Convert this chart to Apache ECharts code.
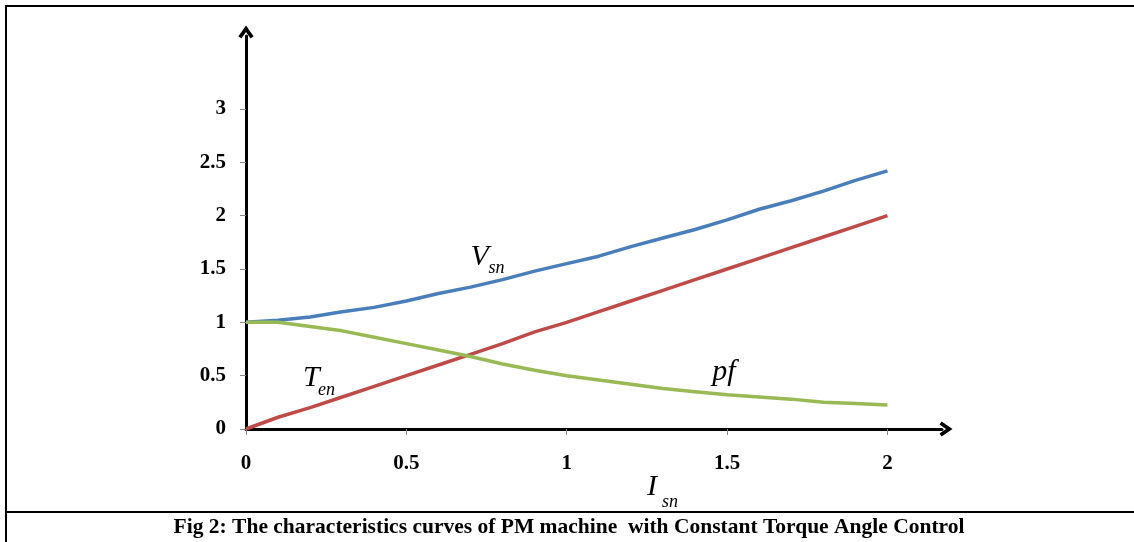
<!DOCTYPE html>
<html>
<head>
<meta charset="utf-8">
<script src="https://cdn.jsdelivr.net/npm/echarts@6/dist/echarts.min.js"></script>
<style>
html,body{margin:0;padding:0;background:#fff;}
#c{width:1134px;height:542px;}
</style>
</head>
<body>
<div id="c"></div>
<script>
// ---- data ----
const xValues = [0,0.1,0.2,0.3,0.4,0.5,0.6,0.7,0.8,0.9,1.0,1.1,1.2,1.3,1.4,1.5,1.6,1.7,1.8,1.9,2.0];
const vsn = [1.00,1.02,1.05,1.10,1.14,1.20,1.27,1.33,1.40,1.48,1.55,1.62,1.71,1.79,1.87,1.96,2.06,2.14,2.23,2.33,2.42];
const ten = [0.00,0.11,0.20,0.30,0.40,0.50,0.60,0.70,0.80,0.91,1.00,1.10,1.20,1.30,1.40,1.50,1.60,1.70,1.80,1.90,2.00];
const pf  = [1.00,1.00,0.96,0.92,0.86,0.80,0.74,0.68,0.61,0.55,0.50,0.46,0.42,0.38,0.35,0.32,0.30,0.28,0.25,0.24,0.225];
const xTicks = [0,0.5,1,1.5,2];
const yTicks = [0,0.5,1,1.5,2,2.5,3];
const caption = 'Fig 2: The characteristics curves of PM machine  with Constant Torque Angle Control';
// annotations: [main, sub, x, y] in data units (left / baseline of main letter)
const annotations = [
  ['V','sn',0.70,1.54],
  ['T','en',0.178,0.40],
  ['pf','',1.454,0.46],
  ['I','sn',1.25,-0.62]
];

const serif = '"Liberation Serif","Times New Roman",serif';
const pairs = a => xValues.map((x,i)=>[x,a[i]]);
const arrowPath = 'path://M0,10 L7,0 L14,10 L11.2,12 L7,6 L2.8,12 Z';

const chart = echarts.init(document.getElementById('c'));
const axisLineCommon = {
  show:true,
  lineStyle:{color:'#000',width:3},
  symbol:['none',arrowPath],
  symbolSize:[17,13],
  symbolOffset:[0,4]
};
chart.setOption({
  animation:false,
  grid:{left:246,right:192,top:36,bottom:113},
  xAxis:{
    type:'value',min:0,max:2.17,
    axisLine:axisLineCommon,
    splitLine:{show:false},
    axisTick:{show:true,customValues:xTicks,length:6,lineStyle:{color:'#888',width:1}},
    axisLabel:{customValues:xTicks,margin:24,fontFamily:serif,fontWeight:'bold',fontSize:21,color:'#000',
      formatter:v=>String(v)}
  },
  yAxis:{
    type:'value',min:0,max:3.684,
    axisLine:axisLineCommon,
    splitLine:{show:false},
    axisTick:{show:true,customValues:yTicks,length:6,lineStyle:{color:'#888',width:1}},
    axisLabel:{customValues:yTicks,margin:20,fontFamily:serif,fontWeight:'bold',fontSize:21,color:'#000',
      formatter:v=>String(v)}
  },
  series:[
    {type:'line',name:'Vsn',data:pairs(vsn),showSymbol:false,symbol:'none',lineStyle:{color:'#4a7ebb',width:3.5},z:3},
    {type:'line',name:'Ten',data:pairs(ten),showSymbol:false,symbol:'none',lineStyle:{color:'#be4b48',width:3.5},z:3},
    {type:'line',name:'pf',data:pairs(pf),showSymbol:false,symbol:'none',lineStyle:{color:'#98b954',width:3.5},z:4}
  ]
});

const graphics = [
  {type:'line',shape:{x1:6,y1:6,x2:1134,y2:6},style:{stroke:'#000',lineWidth:2}},
  {type:'line',shape:{x1:6,y1:5,x2:6,y2:542},style:{stroke:'#000',lineWidth:2}},
  {type:'line',shape:{x1:6,y1:512,x2:1134,y2:512},style:{stroke:'#000',lineWidth:2}},
  {type:'text',x:569,y:527,style:{text:caption,font:'bold 21.5px '+serif,fill:'#000',align:'center',verticalAlign:'middle'}}
];
annotations.forEach(([m,s,x,y])=>{
  const p = chart.convertToPixel({gridIndex:0},[x,y]);
  const mainW = m==='pf'?28:(m==='I'?17:(m==='T'?17:20));
  graphics.push({type:'text',x:p[0],y:p[1]+7,style:{text:m,font:'italic 30px '+serif,fill:'#000',align:'left',verticalAlign:'bottom'}});
  if(s) graphics.push({type:'text',x:p[0]+mainW-2,y:p[1]+(m==='I'?16:13),style:{text:s,font:'italic 18px '+serif,fill:'#000',align:'left',verticalAlign:'bottom'}});
});
chart.setOption({graphic:graphics});
</script>
</body>
</html>
